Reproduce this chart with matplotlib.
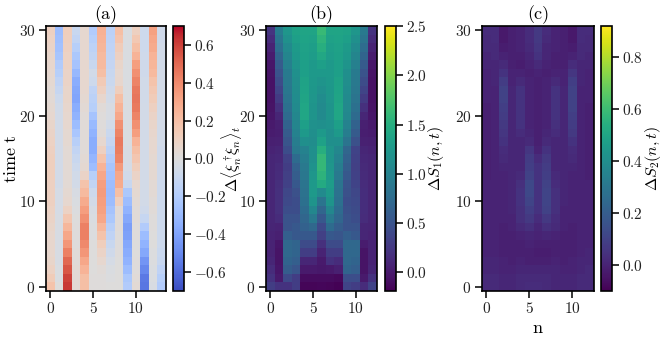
import numpy as np
import matplotlib
matplotlib.use('Agg')
import matplotlib.pyplot as plt

plt.rcParams['font.family'] = ['cmr10', 'DejaVu Serif']
plt.rcParams['mathtext.fontset'] = 'cm'
plt.rcParams['axes.formatter.use_mathtext'] = True
plt.rcParams['font.size'] = 10.5

# each list is one site n, values go t = 0 ... 30
a0 = [.18,.13,.09,.07,.06,.06,.06,.07,.08,.09,.1,.1,.1,.11,.11,.11,.1,.09,.08,.07,.05,.04,.03,.03,.04,.05,.06,.07,.08,.09,.1]
a1 = [.0,-.02,-.02,-.03,-.03,-.03,-.03,-.03,-.03,-.04,-.04,-.04,-.05,-.05,-.05,-.05,-.05,-.05,-.05,-.05,-.05,-.06,-.08,-.11,-.14,-.18,-.2,-.24,-.26,-.27,-.28]
a2 = [.62,.6,.55,.5,.43,.36,.3,.23,.16,.09,.05,.04,.03,.03,.03,.03,.03,.04,.04,.05,.05,.06,.07,.07,.08,.08,.09,.09,.1,.11,.12]
a3 = [.03,.03,.03,.02,.02,.01,.01,.01,.0,-.01,-.02,-.03,-.05,-.06,-.08,-.1,-.13,-.17,-.23,-.28,-.33,-.36,-.39,-.38,-.36,-.31,-.25,-.22,-.18,-.13,-.1]
a4 = [.2,.2,.25,.3,.36,.4,.43,.43,.38,.33,.28,.22,.18,.08,.04,.03,.02,.02,.02,.02,.02,.03,.04,.05,.05,.05,.05,.05,.05,.05,.05]
a5 = [.01,.01,.0,.0,.0,.0,-.01,-.01,-.02,-.03,-.05,-.08,-.13,-.18,-.28,-.32,-.36,-.36,-.33,-.3,-.25,-.18,-.16,-.14,-.08,-.06,-.1,-.13,-.15,-.18,-.2]
a6 = [.01,.01,.02,.05,.08,.12,.18,.23,.3,.32,.33,.34,.33,.3,.25,.18,.1,.05,.02,.01,.01,.02,.06,.1,.14,.2,.22,.22,.24,.25,.26]
a7 = [.0,-.01,-.02,-.04,-.07,-.1,-.14,-.17,-.22,-.25,-.28,-.29,-.28,-.26,-.24,-.2,-.16,-.12,-.09,-.05,-.03,-.03,-.05,-.07,-.09,-.1,-.12,-.13,-.14,-.15,-.16]
a8 = [.0,.0,.0,.0,.01,.01,.01,.02,.02,.03,.12,.2,.28,.3,.35,.42,.44,.45,.42,.38,.3,.25,.2,.12,.06,.05,.07,.1,.13,.17,.2]
a9 = [-.2,-.22,-.28,-.33,-.36,-.38,-.41,-.42,-.38,-.33,-.28,-.22,-.1,-.06,-.04,-.03,-.03,-.02,-.02,-.02,-.02,-.02,-.02,-.02,-.02,-.02,-.02,-.02,-.02,-.02,-.02]
a10 = [.03,.02,.01,.01,.0,.0,.01,.01,.02,.02,.03,.04,.05,.08,.12,.16,.2,.25,.33,.38,.42,.45,.46,.45,.42,.38,.33,.25,.2,.15,.1]
a11 = [-.56,-.55,-.5,-.45,-.38,-.33,-.28,-.2,-.11,-.07,-.05,-.05,-.05,-.05,-.05,-.05,-.05,-.05,-.05,-.05,-.05,-.05,-.06,-.06,-.06,-.07,-.07,-.07,-.08,-.08,-.08]
a12 = [-.03,-.02,-.02,-.01,-.01,.0,.0,.01,.01,.02,.02,.03,.03,.04,.04,.04,.05,.05,.06,.07,.08,.1,.13,.15,.18,.22,.24,.25,.28,.3,.32]
a13 = [-.2,-.18,-.14,-.1,-.09,-.08,-.08,-.08,-.08,-.08,-.08,-.08,-.08,-.07,-.07,-.07,-.07,-.06,-.06,-.05,-.05,-.05,-.05,-.05,-.05,-.05,-.06,-.06,-.06,-.07,-.07]

b0 = [.3,.2,.15,.1,.08,.08,.08,.09,.1,.1,.1,.1,.1,.1,.1,.1,.08,.05,.02,.0,-.03,-.05,-.06,-.06,-.06,-.05,-.03,.02,.08,.15,.22]
b1 = [.2,.0,-.03,-.05,-.05,-.03,.05,.08,.15,.18,.18,.18,.17,.15,.14,.12,.1,.06,.04,.05,.1,.18,.28,.36,.43,.5,.58,.68,.78,.86,.94]
b2 = [.2,.4,.6,.68,.72,.72,.62,.5,.5,.45,.4,.38,.33,.32,.3,.33,.45,.52,.58,.66,.75,.8,.85,.88,.9,.92,.98,1.03,1.1,1.17,1.22]
b3 = [.3,.3,.52,.62,.68,.68,.55,.55,.5,.45,.45,.48,.55,.6,.65,.75,.9,.95,1.0,1.03,1.05,1.1,1.12,1.13,1.14,1.16,1.2,1.24,1.28,1.33,1.36]
b4 = [-.15,-.1,.0,.1,.3,.42,.55,.65,.7,.75,.8,.82,.85,.88,.9,.95,1.0,1.15,1.25,1.33,1.4,1.4,1.38,1.37,1.36,1.33,1.33,1.34,1.35,1.37,1.38]
b5 = [-.15,-.1,.0,.1,.3,.42,.55,.72,.9,1.05,1.2,1.25,1.25,1.22,1.18,1.15,1.15,1.13,1.15,1.17,1.2,1.2,1.22,1.23,1.24,1.25,1.27,1.3,1.32,1.35,1.38]
b6 = [-.14,-.1,-.02,.0,.08,.18,.32,.4,.55,.7,.85,1.1,1.45,1.55,1.6,1.6,1.5,1.35,1.25,1.15,1.1,1.1,1.12,1.16,1.2,1.25,1.33,1.42,1.5,1.56,1.62]
b7 = [-.15,-.1,.0,.2,.3,.42,.55,.75,.9,1.05,1.2,1.25,1.3,1.26,1.22,1.2,1.2,1.15,1.15,1.18,1.2,1.2,1.22,1.23,1.24,1.25,1.27,1.3,1.32,1.35,1.38]
b8 = [-.17,-.12,.05,.15,.3,.42,.52,.6,.7,.75,.8,.82,.85,.9,.95,1.0,1.05,1.15,1.25,1.33,1.4,1.4,1.38,1.37,1.36,1.33,1.33,1.34,1.35,1.37,1.38]
b9 = [.35,.45,.68,.72,.72,.72,.62,.5,.5,.47,.45,.48,.5,.55,.6,.65,.7,.85,.95,1.0,1.05,1.08,1.1,1.12,1.14,1.15,1.2,1.24,1.28,1.33,1.36]
b10 = [.3,.45,.62,.68,.72,.72,.55,.5,.45,.42,.4,.38,.35,.33,.32,.33,.35,.48,.58,.66,.75,.8,.85,.88,.9,.92,.98,1.03,1.1,1.16,1.22]
b11 = [.15,.0,-.05,-.05,-.05,.02,.1,.1,.15,.16,.16,.16,.15,.14,.13,.12,.1,.06,.04,.05,.1,.18,.28,.36,.43,.5,.58,.68,.76,.84,.9]
b12 = [.35,.2,.1,.08,.08,.08,.08,.09,.1,.1,.1,.1,.1,.1,.1,.1,.08,.05,.02,.0,-.03,-.05,-.06,-.06,-.06,-.05,-.03,.02,.08,.14,.2]

c0 = [.02,.02,.01,.01,.0,.0,.0,.0,.0,.0,.0,.0,.0,-.01,-.01,-.01,-.01,-.01,-.01,-.01,-.01,-.01,.0,.0,.0,.0,.01,.01,.02,.02,.03]
c1 = [.02,.02,.01,.01,.0,.0,.0,.0,.0,.0,.0,.0,.0,.0,.0,.0,.0,.0,.0,.0,.0,.0,.0,.0,.01,.01,.01,.02,.02,.03,.03]
c2 = [.01,.01,.0,.0,-.01,-.01,-.01,-.01,.0,.0,.0,.0,.0,.0,.01,.02,.03,.05,.06,.07,.08,.09,.1,.1,.08,.05,.02,.0,-.02,-.03,-.03]
c3 = [.01,.01,.0,-.01,-.01,-.01,-.01,.0,.0,.01,.01,.01,.01,.01,.01,.01,.01,.01,.01,.01,.01,.01,.01,.01,.0,.0,-.01,-.01,-.01,-.01,-.01]
c4 = [.02,.02,.01,.0,-.01,-.01,.0,.02,.04,.04,.05,.05,.04,.02,.01,.01,.01,.01,.03,.05,.05,.05,.05,.05,.02,.0,-.02,-.01,.0,.0,.0]
c5 = [.03,.02,.01,-.01,-.01,.0,.01,.04,.07,.09,.11,.12,.12,.1,.09,.08,.06,.02,.01,.0,.0,.0,.0,.0,.0,-.01,.0,.01,.02,.03,.03]
c6 = [.03,.02,.01,-.01,-.02,-.01,.0,.01,.03,.05,.05,.05,.05,.05,.05,.03,.0,-.01,-.01,-.01,-.01,-.01,-.01,-.01,-.01,.0,.02,.05,.06,.07,.07]
c7 = [.02,.02,.01,-.01,-.02,-.01,.01,.04,.07,.1,.11,.11,.1,.09,.08,.07,.05,.02,.01,.0,.0,.0,.0,.0,.0,-.01,.0,.01,.01,.02,.03]
c8 = [.01,.01,.01,.0,-.01,-.01,.0,.02,.03,.04,.04,.04,.03,.02,.01,.01,.01,.01,.03,.04,.05,.05,.05,.05,.02,.0,-.01,-.01,.0,.0,.0]
c9 = [.01,.01,.0,-.01,-.01,-.01,-.01,.0,.0,.0,.01,.01,.01,.01,.01,.01,.01,.01,.01,.01,.01,.01,.01,.01,.0,.0,-.01,-.01,-.01,-.01,-.01]
c10 = [.01,.01,.0,.0,-.01,-.01,-.01,-.01,.0,.0,.0,.0,.0,.0,.01,.02,.03,.05,.07,.08,.09,.1,.1,.1,.09,.06,.03,.0,-.02,-.03,-.03]
c11 = [.02,.02,.01,.01,.0,.0,.0,.0,.0,.0,.0,.0,.0,.0,.0,.0,.0,.0,.0,.0,.0,.0,.0,.0,.01,.01,.01,.02,.02,.03,.03]
c12 = [.02,.02,.02,.01,.01,.0,.0,.0,.0,.0,.0,.0,.0,-.01,-.01,-.01,-.01,-.01,-.01,-.01,-.01,-.01,.0,.0,.0,.0,.01,.01,.02,.02,.03]

grid_a = np.array([a0, a1, a2, a3, a4, a5, a6, a7, a8, a9, a10, a11, a12, a13]).T
grid_b = np.array([b0, b1, b2, b3, b4, b5, b6, b7, b8, b9, b10, b11, b12]).T
grid_c = np.array([c0, c1, c2, c3, c4, c5, c6, c7, c8, c9, c10, c11, c12]).T

titles = ['(a)', '(b)', '(c)']
cb_labels = [r'$\Delta\langle\xi_n^\dagger\!\xi_n\rangle_t$', r'$\Delta S_1(n,t)$', r'$\Delta S_2(n,t)$']
cb_ticks = [[-.6, -.4, -.2, 0, .2, .4, .6], [0, .5, 1, 1.5, 2, 2.5], [0, .2, .4, .6, .8]]
limits = [(-.7, .7), (-.19, 2.5), (-.1, .92)]
cmaps = ['coolwarm', 'viridis', 'viridis']

W, H = 664.0, 337.0
ax_boxes = [(46, 165.5), (266, 377), (482, 594)]
cb_boxes = [(173, 184), (385, 396), (601, 612)]
cb_label_x = [219, 426, 643]
top, bottom = 26, 291

fig = plt.figure(figsize=(W / 100, H / 100), dpi=100)
for i, grid in enumerate([grid_a, grid_b, grid_c]):
    l, r = ax_boxes[i]
    ax = fig.add_axes([l / W, 1 - bottom / H, (r - l) / W, (bottom - top) / H])
    im = ax.imshow(grid, origin='lower', aspect='auto', cmap=cmaps[i],
                   vmin=limits[i][0], vmax=limits[i][1], interpolation='nearest')
    ax.set_xticks([0, 5, 10])
    ax.set_yticks([0, 10, 20, 30])
    ax.set_xticklabels(['$0$', '$5$', '$10$'])
    ax.set_yticklabels(['$0$', '$10$', '$20$', '$30$'])
    ax.tick_params(length=5, width=1.1, pad=2.5, labelsize=11, labelcolor='#222222')
    ax.set_title(titles[i], fontsize=13, pad=5)
    for s in ax.spines.values():
        s.set_linewidth(1.2)

    l, r = cb_boxes[i]
    cax = fig.add_axes([l / W, 1 - bottom / H, (r - l) / W, (bottom - top) / H])
    cb = fig.colorbar(im, cax=cax)
    cb.set_ticks(cb_ticks[i])
    cb.set_ticklabels(['$%.1f$' % v for v in cb_ticks[i]])
    cax.tick_params(length=5, width=1.1, pad=2.5, labelsize=11, labelcolor='#222222')
    cb.set_label(cb_labels[i], fontsize=11.5)
    cax.yaxis.set_label_coords((cb_label_x[i] - l) / (r - l), 0.5)
    cb.outline.set_linewidth(1.2)

    if i == 0:
        ax.set_ylabel(r'$\mathrm{time\ t}$', fontsize=13)
        ax.yaxis.set_label_coords((19 - 46) / (165.5 - 46), 0.5)
    if i == 2:
        ax.set_xlabel(r'$\mathrm{n}$', fontsize=13, labelpad=3)

fig.savefig('out.png', dpi=100)
